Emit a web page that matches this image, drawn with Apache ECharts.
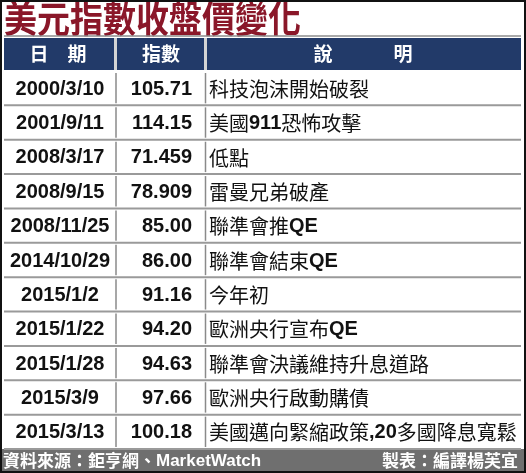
<!DOCTYPE html>
<html>
<head>
<meta charset="utf-8">
<script src="https://cdn.jsdelivr.net/npm/echarts@6/dist/echarts.min.js"></script>
<style>
html, body { margin: 0; padding: 0; background: #fff; }
#chart { width: 526px; height: 473px; }
</style>
</head>
<body>
<div id="chart"></div>
<script>
// 表格資料
var title = '美元指數收盤價變化';
var headers = ['日　期', '指數', '說', '明'];
var dates = ['2000/3/10', '2001/9/11', '2008/3/17', '2008/9/15', '2008/11/25', '2014/10/29',
    '2015/1/2', '2015/1/22', '2015/1/28', '2015/3/9', '2015/3/13'];
var values = ['105.71', '114.15', '71.459', '78.909', '85.00', '86.00',
    '91.16', '94.20', '94.63', '97.66', '100.18'];
var notes = ['科技泡沫開始破裂', '美國911恐怖攻擊', '低點', '雷曼兄弟破產', '聯準會推QE', '聯準會結束QE',
    '今年初', '歐洲央行宣布QE', '聯準會決議維持升息道路', '歐洲央行啟動購債', '美國邁向緊縮政策,20多國降息寬鬆'];
var source = '資料來源：鉅亨網、MarketWatch';
var maker = '製表：編譯楊芙宜';

var CJK = '"Noto Sans CJK TC"';
var LAT = '"Liberation Sans", Arial';

// 英數字改用粗體
function toRich(s) {
    return s.replace(/([A-Za-z0-9,]+)/g, '{b|$1}');
}

var myChart = echarts.init(document.getElementById('chart'));

var option = {
    animation: false,
    grid: { left: 0, right: 0, top: 71, bottom: 24 },
    xAxis: { type: 'value', min: 0, max: 526, show: false },
    yAxis: { type: 'category', data: dates, inverse: true, show: false },
    series: [{
        type: 'custom',
        data: dates.map(function (d, i) { return [0, i]; }),
        renderItem: function (params, api) {
            var i = params.dataIndex;
            var c = api.coord([0, i]);
            var h = api.size([0, 1])[1];
            var yc = c[1], yt = yc - h / 2, yb = yc + h / 2;
            return {
                type: 'group',
                children: [
                    { type: 'line', shape: { x1: 4, y1: yb, x2: 521, y2: yb }, style: { stroke: '#9a9a9a', lineWidth: 2 } },
                    { type: 'line', shape: { x1: 116, y1: yt + 2, x2: 116, y2: yb - 2 }, style: { stroke: '#8a8a8a', lineWidth: 1.5 } },
                    { type: 'line', shape: { x1: 205.5, y1: yt + 2, x2: 205.5, y2: yb - 2 }, style: { stroke: '#8a8a8a', lineWidth: 1.5 } },
                    {
                        type: 'text',
                        style: { x: 60, y: yc + 1, text: dates[i], align: 'center', verticalAlign: 'middle',
                            font: 'bold 20px ' + LAT, fill: '#111' }
                    },
                    {
                        type: 'text',
                        style: { x: 192, y: yc + 1, text: values[i], align: 'right', verticalAlign: 'middle',
                            font: 'bold 20px ' + LAT, fill: '#111' }
                    },
                    {
                        type: 'text',
                        style: { x: 209, y: yc + 1, text: toRich(notes[i]), align: 'left', verticalAlign: 'middle',
                            font: '20px ' + CJK, fill: '#111',
                            rich: { b: { font: 'bold 20px ' + LAT, fill: '#111' } } }
                    }
                ]
            };
        }
    }],
    graphic: [
        // 標題
        {
            type: 'text', x: 4, y: 19, scaleY: 1.12, originY: 0,
            style: { text: title, verticalAlign: 'middle', font: 'bold 33px ' + CJK, fill: '#8a1729' }
        },
        { type: 'line', shape: { x1: 4, y1: 36, x2: 521, y2: 36 }, style: { stroke: '#8c8c8c', lineWidth: 1.5 } },
        // 表頭
        { type: 'rect', shape: { x: 4, y: 38, width: 517, height: 32 }, style: { fill: '#223a69' } },
        { type: 'line', shape: { x1: 115.5, y1: 38, x2: 115.5, y2: 70 }, style: { stroke: '#d4d4d4', lineWidth: 3 } },
        { type: 'line', shape: { x1: 205.5, y1: 38, x2: 205.5, y2: 70 }, style: { stroke: '#d4d4d4', lineWidth: 3 } },
        { type: 'text', x: 58, y: 54, style: { text: headers[0], align: 'center', verticalAlign: 'middle', font: 'bold 19px ' + CJK, fill: '#fff' } },
        { type: 'text', x: 161, y: 54, style: { text: headers[1], align: 'center', verticalAlign: 'middle', font: 'bold 19px ' + CJK, fill: '#fff' } },
        { type: 'text', x: 323, y: 54, style: { text: headers[2], align: 'center', verticalAlign: 'middle', font: 'bold 19px ' + CJK, fill: '#fff' } },
        { type: 'text', x: 403, y: 54, style: { text: headers[3], align: 'center', verticalAlign: 'middle', font: 'bold 19px ' + CJK, fill: '#fff' } },
        // 頁尾
        { type: 'rect', shape: { x: 2, y: 449, width: 522, height: 24 }, style: { fill: '#6f6f6f' } },
        {
            type: 'text', x: 3, y: 461,
            style: { text: source.replace('MarketWatch', '{b|MarketWatch}'), verticalAlign: 'middle',
                font: 'bold 17px ' + CJK, fill: '#fff',
                rich: { b: { font: 'bold 17px ' + LAT, fill: '#fff' } } }
        },
        {
            type: 'text', x: 518, y: 461,
            style: { text: maker, align: 'right', verticalAlign: 'middle', font: 'bold 17px ' + CJK, fill: '#fff' }
        },
        // 外框
        { type: 'rect', shape: { x: 1, y: 1, width: 524, height: 471 }, style: { fill: null, stroke: '#111', lineWidth: 2 } }
    ]
};

myChart.setOption(option);
</script>
</body>
</html>
